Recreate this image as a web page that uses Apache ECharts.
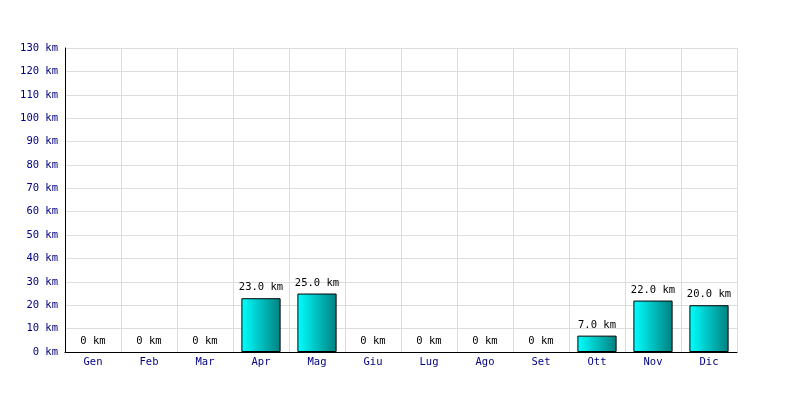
<!DOCTYPE html>
<html><head><meta charset="utf-8">
<script src="https://cdn.jsdelivr.net/npm/echarts@6/dist/echarts.min.js"></script>
<style>html,body{margin:0;padding:0;background:#fff}#c{width:800px;height:400px}</style>
</head><body><div id="c"></div>
<script>
const categories = ['Gen','Feb','Mar','Apr','Mag','Giu','Lug','Ago','Set','Ott','Nov','Dic'];
const distances = [0,0,0,23,25,0,0,0,0,7,22,20];
const yMin = 0, yMax = 130, yStep = 10;

const font = '"DejaVu Sans Mono", monospace';
const barData = distances.map(v => ({value:v, itemStyle:{borderWidth: v === 0 ? 0 : 1}}));
const chart = echarts.init(document.getElementById('c'), null, {renderer:'canvas'});
chart.setOption({
  animation:false,
  backgroundColor:'#fff',
  grid:{left:65,right:63,top:48,bottom:48,containLabel:false},
  xAxis:{
    type:'category', data:categories,
    axisLine:{lineStyle:{color:'#000',width:1}},
    axisTick:{show:false},
    splitLine:{show:true,interval:0,lineStyle:{color:'#dddddd'}},
    axisLabel:{color:'#000080',fontFamily:font,fontSize:10.5,margin:5}
  },
  yAxis:{
    type:'value', min:yMin, max:yMax, interval:yStep,
    axisLine:{show:true,lineStyle:{color:'#000',width:1}},
    axisTick:{show:false},
    splitLine:{lineStyle:{color:'#dddddd'}},
    axisLabel:{color:'#000080',fontFamily:font,fontSize:10.5,margin:7,formatter:v=>v+' km'}
  },
  series:[{
    type:'bar', data:barData, barWidth:'70%',
    itemStyle:{
      borderColor:'#000',borderWidth:1,
      color:new echarts.graphic.LinearGradient(0,0,1,0,[{offset:0,color:'#00ffff'},{offset:1,color:'#008080'}])
    },
    label:{show:true,position:'top',distance:5,color:'#000',fontFamily:font,fontSize:10.5,
      formatter:p=>p.value===0?'0 km':p.value.toFixed(1)+' km'}
  }]
});
</script></body></html>
